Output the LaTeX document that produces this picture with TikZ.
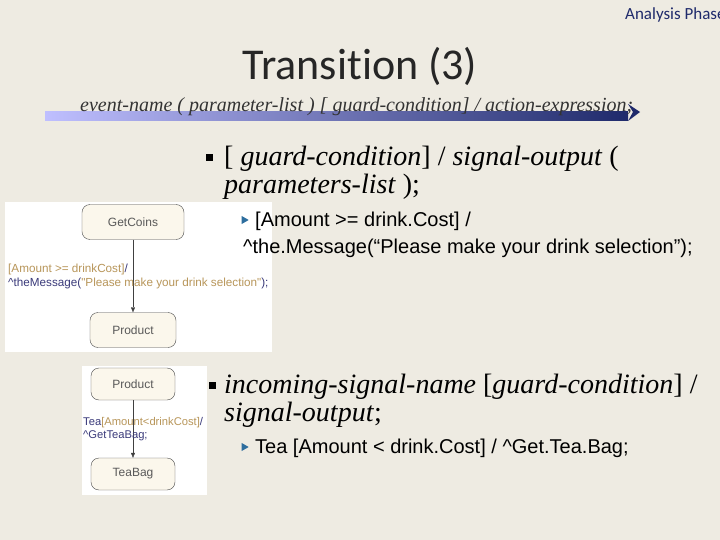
\documentclass[tikz,border=0pt]{standalone}
\usepackage{amssymb}
\usepackage{fontspec}
\setmainfont{Liberation Serif}
\newfontfamily\carl[Ligatures=NoCommon]{Carlito}
\newfontfamily\ari{Liberation Sans}
\usetikzlibrary{arrows.meta}
\definecolor{bg}{HTML}{EEEBE2}
\definecolor{stfill}{HTML}{FBF7EC}
\definecolor{navy}{HTML}{1F2A6B}
\definecolor{gold}{HTML}{B8965A}
\definecolor{lbl}{HTML}{3A3A7A}
\definecolor{bul}{HTML}{2E6E9E}
\tikzset{
  st/.style={draw=black!70, fill=stfill, rounded corners=8pt, minimum height=#1, inner sep=0pt, font=\ari\fontsize{12}{14}\selectfont, text=black!65},
  pan/.style={fill=white, draw=none},
  tr/.style={draw=black!75, -{Triangle[length=5pt,width=4pt]}},
  big/.style={anchor=base west, inner sep=0, font=\fontsize{28}{28}\selectfont},
  sub/.style={anchor=base west, inner sep=0, font=\ari\fontsize{20}{20}\selectfont},
  sq/.style={fill=black, minimum size=7pt, inner sep=0},
  tri/.style={fill=bul, isosceles triangle, minimum height=7pt, minimum width=8pt, inner sep=0, isosceles triangle apex angle=60},
}
\usetikzlibrary{shapes.geometric}
\begin{document}
\begin{tikzpicture}[x=1pt,y=-1pt]
\useasboundingbox (0,0) rectangle (720,540);
\fill[bg] (0,0) rectangle (720,540);
\begin{scope}
\clip (0,0) rectangle (720,540);
\node[anchor=base west, inner sep=0, font=\carl\fontsize{17}{17}\selectfont, text=navy] (hdr) at (625,20) {Analysis Phase};
\end{scope}
\node[anchor=base, inner sep=0, font=\carl\fontsize{44}{44}\selectfont, text=black!85] (title) at (360,80) {Transition (3)};
% bar
\shade[left color=blue!25!white, right color=navy] (45,112) rectangle (628,121);
\fill[navy] (628,104) -- (640,112) -- (628,121) -- (633,112) -- cycle;
\node[anchor=base west, inner sep=0, font=\itshape\fontsize{20}{20}\selectfont, text=black!80] (sig) at (80,112) {event-name ( parameter-list ) [ guard-condition] / action-expression;};
% panels
\fill[pan] (5,202) rectangle (272,352);
\fill[pan] (82,366) rectangle (207,495);
% bullets
\node[sq] (b1) at (209,158) {};
\node[big] (t1a) at (224,166) {[ \textit{guard-condition}] / \textit{signal-output} (};
\node[big] (t1b) at (224,194) {\textit{parameters-list} );};
\node[tri] (c1) at (244,220) {};
\node[sub] (t2a) at (255,226) {[Amount >= drink.Cost] /};
\node[sub] (t2b) at (243,253) {\^{}the.Message(“Please make your drink selection”);};
\node[sq] (b2) at (212,385) {};
\node[big] (t3a) at (224,393) {\textit{incoming-signal-name} [\textit{guard-condition}] /};
\node[big] (t3b) at (224,421) {\textit{signal-output};};
\node[tri] (c2) at (244,447) {};
\node[sub] (t4) at (255,453) {Tea [Amount < drink.Cost] / \^{}Get.Tea.Bag;};
% panel 1
\node[st=35pt, minimum width=102pt] (gc) at (133,222) {GetCoins};
\node[st=35pt, minimum width=86pt] (pr) at (133,330) {Product};
\draw[tr] (gc) -- (pr);
\node[anchor=west, inner sep=0, align=left, font=\ari\fontsize{11.7}{14}\selectfont] (l1) at (8,276) {\textcolor{gold}{[Amount >= drinkCost]}\textcolor{lbl}{/}\\\textcolor{lbl}{\^{}theMessage(}\textcolor{gold}{"Please make your drink selection"}\textcolor{lbl}{);}};
% panel 2
\node[st=32pt, minimum width=84pt] (p2) at (133,384) {Product};
\node[st=32pt, minimum width=84pt] (tb) at (133,474) {TeaBag};
\draw[tr] (p2) -- (tb);
\node[anchor=west, inner sep=0, align=left, font=\ari\fontsize{11.2}{13}\selectfont] (l2) at (83,429) {\textcolor{lbl}{Tea}\textcolor{gold}{[Amount<drinkCost]}\textcolor{lbl}{/}\\\textcolor{lbl}{\^{}GetTeaBag;}};
\end{tikzpicture}
\end{document}
